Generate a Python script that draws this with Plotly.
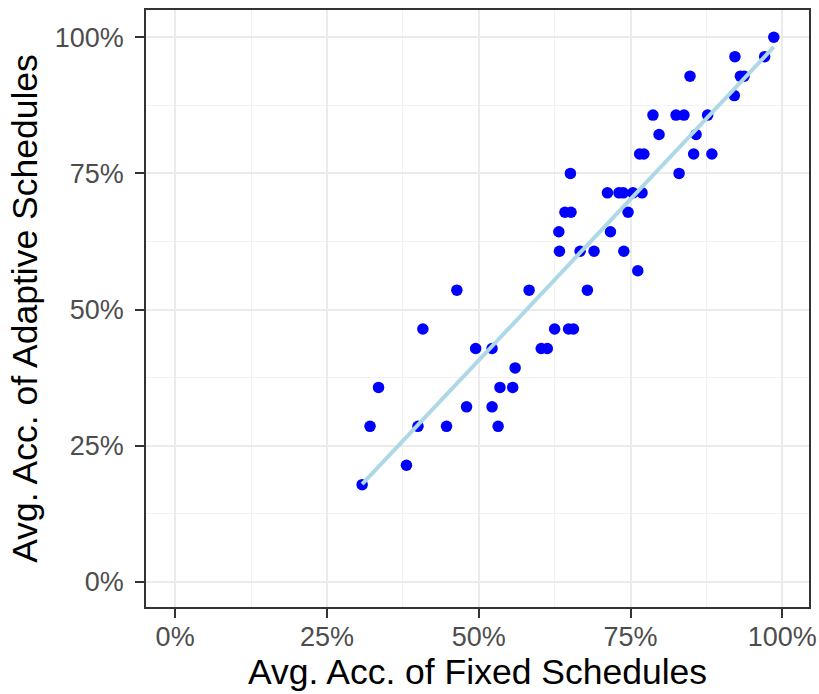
import numpy as np
import plotly.graph_objects as go

# Average accuracy (%) of fixed schedules vs. adaptive schedules, one point per task
fixed_acc = [
    30.8, 38.1,
    32.1, 40.0, 44.7, 53.2,
    48.0, 52.2,
    33.5, 53.5, 55.6,
    56.0,
    49.5, 52.2, 60.3, 61.3,
    40.8, 62.5, 64.8, 65.6,
    46.4, 58.3, 67.9,
    76.2,
    63.3, 66.7, 69.0, 73.9,
    63.2, 71.7,
    64.2, 65.2, 74.6,
    71.2, 73.1, 73.8, 75.4, 76.9,
    65.1, 83.0,
    76.5, 77.2, 85.4, 88.4,
    79.7, 85.8,
    78.7, 82.5, 83.8, 87.7,
    92.1,
    84.8, 93.1, 93.7,
    92.2, 97.1,
    98.6,
]
adaptive_acc = [
    17.86, 21.43,
    28.57, 28.57, 28.57, 28.57,
    32.14, 32.14,
    35.71, 35.71, 35.71,
    39.29,
    42.86, 42.86, 42.86, 42.86,
    46.43, 46.43, 46.43, 46.43,
    53.57, 53.57, 53.57,
    57.14,
    60.71, 60.71, 60.71, 60.71,
    64.29, 64.29,
    67.86, 67.86, 67.86,
    71.43, 71.43, 71.43, 71.43, 71.43,
    75.00, 75.00,
    78.57, 78.57, 78.57, 78.57,
    82.14, 82.14,
    85.71, 85.71, 85.71, 85.71,
    89.29,
    92.86, 92.86, 92.86,
    96.43, 96.43,
    100.0,
]

tick_vals = [0, 25, 50, 75, 100]
tick_text = ["0%", "25%", "50%", "75%", "100%"]

# Least-squares fit drawn across the observed range of the fixed-schedule accuracy
x = np.array(fixed_acc)
y = np.array(adaptive_acc)
slope, intercept = np.polyfit(x, y, 1)
fit_x = np.array([x.min(), x.max()])
fit_y = slope * fit_x + intercept

fig = go.Figure()
fig.add_trace(go.Scatter(
    x=fixed_acc, y=adaptive_acc, mode="markers",
    marker=dict(color="#0000FF", size=11.5, line=dict(width=0)),
    showlegend=False, hoverinfo="x+y",
))
fig.add_trace(go.Scatter(
    x=fit_x, y=fit_y, mode="lines",
    line=dict(color="#ADD8E6", width=4),
    showlegend=False, hoverinfo="skip",
))

FONT = "Liberation Sans, Arial, sans-serif"

axis_common = dict(
    tickmode="array", tickvals=tick_vals, ticktext=tick_text,
    showgrid=True, gridcolor="#EBEBEB", gridwidth=2.2,
    minor=dict(tickmode="array", tickvals=[12.5, 37.5, 62.5, 87.5],
               showgrid=True, gridcolor="#F2F2F2", gridwidth=1.2),
    zeroline=False,
    showline=True, mirror=True, linecolor="#333333", linewidth=1.8,
    ticks="outside", ticklen=9, tickwidth=2, tickcolor="#333333",
    tickfont=dict(family=FONT, size=27, color="#4D4D4D"),
)

fig.update_xaxes(
    **axis_common, range=[-4.8, 104.4],
    ticklabelstandoff=-4,
    title=dict(text="Avg. Acc. of Fixed Schedules", standoff=4,
               font=dict(family=FONT, size=35.5, color="#000000")),
)
fig.update_yaxes(
    **axis_common, range=[-4.6, 105.0],
    ticklabelstandoff=6,
    title=dict(text="Avg. Acc. of Adaptive Schedules", standoff=6,
               font=dict(family=FONT, size=35.5, color="#000000")),
)

fig.update_layout(
    width=819, height=694,
    margin=dict(l=146, r=10, t=10, b=87, autoexpand=False),
    plot_bgcolor="#FFFFFF", paper_bgcolor="#FFFFFF",
)

fig.write_html("out.html")
